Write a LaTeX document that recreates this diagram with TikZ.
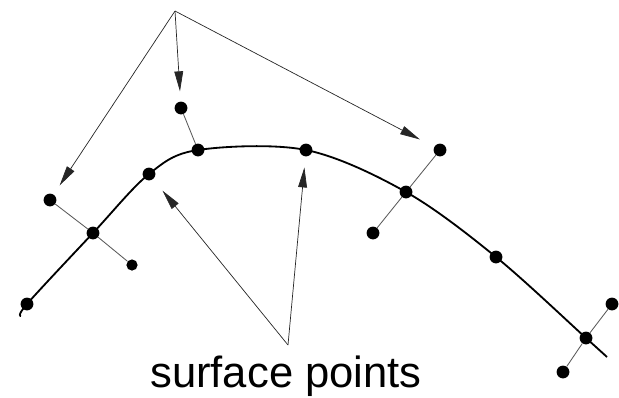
\documentclass[tikz,border=0pt]{standalone}
\usepackage{fontspec}
\setmainfont{Liberation Sans}
\usetikzlibrary{arrows.meta, backgrounds}
\tikzset{
    dot/.style={circle, fill=black, inner sep=0pt, minimum size=0.32cm},
    surfline/.style={line width=1.3pt, draw=black},
    stub/.style={line width=0.6pt, draw=black!65},
    arrow/.style={-{Triangle[length=0.5cm, width=0.22cm]}, line width=0.5pt, draw=black!85},
    lbl/.style={font=\fontsize{31}{37}\selectfont, inner sep=0pt},
}
\begin{document}
\begin{tikzpicture}[x=0.025cm, y=-0.025cm]
    \useasboundingbox (0,0) rectangle (619,397);
    % points on the surface
    \node[dot] (s0) at (27,304) {};
    \node[dot] (sa) at (93,233) {};
    \node[dot] (sb) at (149,174) {};
    \node[dot] (sc) at (198,150) {};
    \node[dot] (sd) at (306,150) {};
    \node[dot] (se) at (406,192) {};
    \node[dot] (sf) at (496,257) {};
    \node[dot] (sg) at (586,338) {};
    \coordinate (cstart) at (21,316);
    \coordinate (cend) at (607,357);
    % points off the surface
    \node[dot] (oa1) at (50,200) {};
    \node[dot, minimum size=0.28cm] (oa2) at (132,265) {};
    \node[dot] (oc1) at (181,108) {};
    \node[dot] (oe1) at (440,150) {};
    \node[dot] (oe2) at (373,233) {};
    \node[dot] (og1) at (612,304) {};
    \node[dot] (og2) at (563,372) {};
    \begin{scope}[on background layer]
        \draw[surfline] plot[smooth, tension=0.55] coordinates {(cstart) (s0.center) (sa.center)
            (sb.center) (sc.center) (sd.center) (se.center) (sf.center) (sg.center) (cend)};
        \draw[stub] (oa1) -- (sa);
        \draw[stub] (sa) -- (oa2);
        \draw[stub] (oc1) -- (sc);
        \draw[stub] (oe1) -- (se);
        \draw[stub] (se) -- (oe2);
        \draw[stub] (og1) -- (sg);
        \draw[stub] (sg) -- (og2);
    \end{scope}
    % labels and pointers
    \coordinate (src) at (175,11);
    \node[lbl, anchor=base] (surflbl) at (286,387) {surface points};
    \coordinate (fork) at (288,345);
    \draw[arrow, shorten >=0.27cm] (src) -- (oa1);
    \draw[arrow, shorten >=0.25cm] (src) -- (oc1);
    \draw[arrow, shorten >=0.4cm] (src) -- (oe1);
    \draw[arrow, shorten >=0.37cm] (fork) -- (sb);
    \draw[arrow, shorten >=0.27cm] (fork) -- (sd);
\end{tikzpicture}
\end{document}
